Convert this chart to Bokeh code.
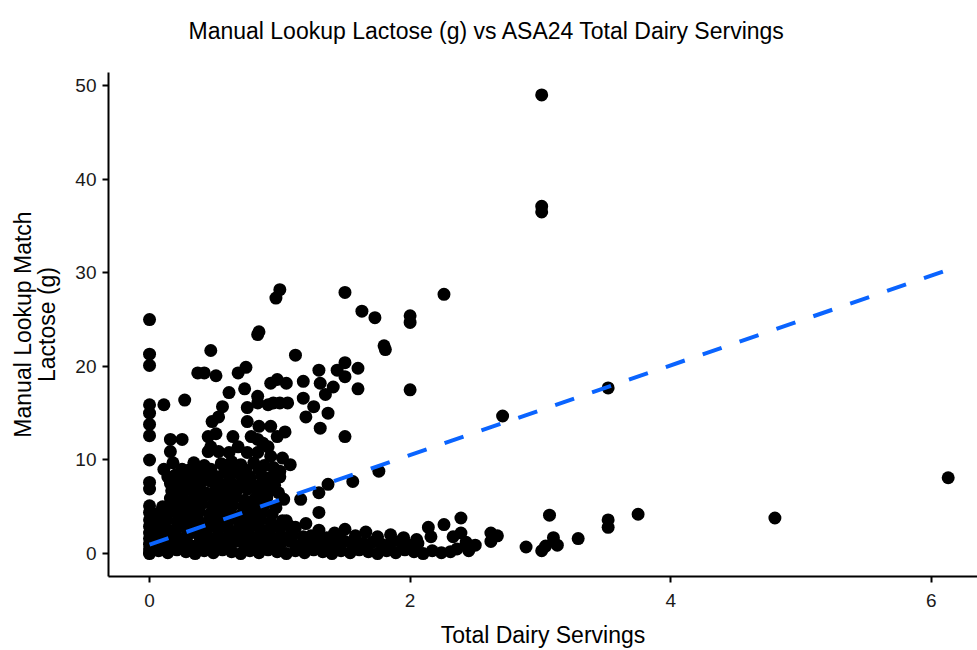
from bokeh.plotting import figure
from bokeh.models import FixedTicker, Range1d, Title
from bokeh.embed import file_html
from bokeh.resources import INLINE

# ---------------- data (Total Dairy Servings, Lactose g) ----------------
zero_points = [(0.0, 25.0), (0.0, 21.3), (0.0, 20.1), (0.0, 15.9), (0.0, 15.0), (0.0, 13.8),
               (0.0, 12.6), (0.0, 10.0), (0.0, 7.6), (0.0, 6.9), (0.0, 5.1), (0.0, 4.4),
               (0.0, 3.6), (0.0, 2.9), (0.0, 2.2), (0.0, 1.6), (0.0, 1.0), (0.0, 0.5), (0.0, 0.1)]

outlier_points = [(3.01, 49.0), (3.01, 37.1), (3.01, 36.5), (1.00, 28.2), (0.97, 27.3), (1.50, 27.9),
                  (2.26, 27.7), (1.63, 25.9), (1.73, 25.2), (2.00, 25.4), (2.00, 24.7), (0.83, 23.4),
                  (0.84, 23.7), (0.47, 21.7), (1.12, 21.2), (1.80, 22.2), (1.81, 21.8), (2.00, 17.5),
                  (3.52, 17.7), (2.71, 14.7), (6.13, 8.1), (4.80, 3.8), (3.75, 4.2), (3.52, 3.6),
                  (3.52, 2.8), (3.07, 4.1), (3.29, 1.6), (3.10, 1.7), (3.13, 0.9), (3.01, 0.3),
                  (3.04, 0.8), (2.89, 0.7)]

upper_points = [(0.11, 15.9), (0.27, 16.4), (0.37, 19.3), (0.42, 19.3), (0.51, 19.0), (0.68, 19.3),
                (0.74, 19.9), (0.61, 17.2), (0.73, 17.6), (0.83, 16.8), (0.93, 18.2), (0.98, 18.6),
                (1.05, 18.2), (1.18, 18.4), (1.31, 18.2), (1.30, 19.6), (1.44, 19.6), (1.50, 20.4),
                (1.60, 19.8), (1.50, 18.9), (1.60, 17.6), (1.41, 17.8), (1.35, 17.0), (1.37, 15.0),
                (1.26, 15.7), (1.18, 16.6), (1.20, 14.6), (1.06, 16.1), (0.95, 16.1), (1.31, 13.4),
                (1.50, 12.5), (0.56, 15.7), (0.53, 14.6), (0.48, 14.1), (0.75, 15.6), (0.83, 16.1),
                (0.91, 15.9), (1.00, 16.1), (0.75, 14.1), (0.84, 13.6), (0.93, 13.6), (1.04, 13.0),
                (0.98, 12.5), (0.16, 12.2), (0.25, 12.2), (0.16, 10.9), (0.45, 12.5), (0.47, 11.4),
                (0.51, 12.8), (0.64, 12.5), (0.68, 11.4), (0.75, 10.8), (0.78, 12.5), (0.83, 12.2),
                (0.91, 11.4), (0.83, 10.8), (0.87, 11.8), (0.45, 10.9), (0.53, 10.9), (0.61, 10.8),
                (0.93, 10.4)]

mid_points = [(1.00, 8.8), (1.00, 8.2), (0.89, 7.4), (1.16, 5.8), (1.30, 6.5), (1.37, 7.4),
              (1.56, 7.7), (1.76, 8.8), (1.30, 4.4), (1.03, 5.8), (1.08, 9.5), (1.02, 10.2)]

blob_points = [
    (0.18, 9.7), (0.34, 9.7), (0.42, 9.4), (0.55, 9.6), (0.63, 9.8), (0.70, 9.5), (0.80, 9.7), (0.88, 9.4),
    (0.11, 9.0), (0.25, 9.0), (0.30, 8.9), (0.38, 9.1), (0.47, 9.0), (0.58, 8.8), (0.66, 9.1), (0.74, 8.9),
    (0.84, 9.0), (0.95, 9.2),
    (0.14, 8.2), (0.20, 8.4), (0.29, 8.3), (0.36, 8.1), (0.44, 8.4), (0.52, 8.2), (0.61, 8.3), (0.69, 8.5),
    (0.77, 8.2), (0.86, 8.3), (0.92, 8.1),
    (0.16, 7.5), (0.23, 7.6), (0.31, 7.4), (0.39, 7.5), (0.47, 7.7), (0.55, 7.4), (0.63, 7.5), (0.71, 7.6),
    (0.79, 7.4), (0.87, 7.5), (0.96, 7.3),
    (0.17, 6.7), (0.22, 6.6), (0.28, 6.8), (0.35, 6.7), (0.43, 6.5), (0.51, 6.8), (0.59, 6.6), (0.67, 6.7),
    (0.75, 6.9), (0.83, 6.6), (0.91, 6.7), (0.99, 6.5),
    (0.16, 5.9), (0.20, 6.0), (0.26, 5.8), (0.34, 5.9), (0.42, 6.1), (0.50, 5.8), (0.57, 5.9), (0.65, 6.0),
    (0.73, 5.7), (0.81, 5.9), (0.90, 6.0),
    (0.10, 5.0), (0.17, 5.2), (0.24, 5.1), (0.32, 5.0), (0.40, 5.3), (0.48, 5.1), (0.56, 4.9), (0.64, 5.2),
    (0.72, 5.0), (0.80, 5.1), (0.88, 5.2), (0.97, 4.9),
    (0.07, 4.3), (0.15, 4.4), (0.22, 4.2), (0.30, 4.3), (0.38, 4.5), (0.46, 4.2), (0.54, 4.3), (0.62, 4.4),
    (0.70, 4.1), (0.78, 4.3), (0.86, 4.4), (0.94, 4.2),
    (0.06, 3.5), (0.13, 3.6), (0.21, 3.4), (0.29, 3.5), (0.37, 3.7), (0.45, 3.4), (0.53, 3.5), (0.61, 3.6),
    (0.69, 3.3), (0.77, 3.5), (0.85, 3.6), (0.93, 3.4), (1.02, 3.5),
    (0.05, 2.7), (0.12, 2.8), (0.20, 2.6), (0.28, 2.7), (0.36, 2.9), (0.44, 2.6), (0.52, 2.7), (0.60, 2.8),
    (0.68, 2.5), (0.76, 2.7), (0.84, 2.8), (0.92, 2.6), (1.00, 2.7), (1.08, 2.9),
    (0.05, 1.9), (0.13, 2.0), (0.21, 1.8), (0.29, 1.9), (0.37, 2.1), (0.45, 1.8), (0.53, 1.9), (0.61, 2.0),
    (0.69, 1.7), (0.77, 1.9), (0.85, 2.0), (0.93, 1.8), (1.01, 1.9), (1.09, 2.1), (1.18, 1.8), (1.27, 1.9),
    (1.36, 1.7)]

band_points = [
    (0.03, 1.2), (0.10, 1.0), (0.17, 1.1), (0.24, 1.3), (0.31, 0.9), (0.38, 1.1), (0.45, 1.2), (0.52, 1.0),
    (0.59, 1.1), (0.66, 1.3), (0.73, 0.9), (0.80, 1.1), (0.87, 1.2), (0.94, 1.0), (1.01, 1.1), (1.08, 1.3),
    (1.15, 0.9), (1.22, 1.1), (1.29, 1.2), (1.36, 1.0), (1.43, 1.1), (1.50, 1.3), (1.57, 0.9), (1.64, 1.1),
    (1.71, 1.2), (1.78, 1.0), (1.85, 1.1), (1.92, 1.3), (1.99, 0.9), (2.06, 1.1),
    (0.00, 0.0), (0.07, 0.3), (0.14, 0.1), (0.21, 0.4), (0.28, 0.2), (0.35, 0.0), (0.42, 0.3), (0.49, 0.1),
    (0.56, 0.4), (0.63, 0.2), (0.70, 0.0), (0.77, 0.3), (0.84, 0.1), (0.91, 0.4), (0.98, 0.2), (1.05, 0.0),
    (1.12, 0.3), (1.19, 0.1), (1.26, 0.4), (1.33, 0.2), (1.40, 0.0), (1.47, 0.3), (1.54, 0.1), (1.61, 0.4),
    (1.68, 0.2), (1.75, 0.0), (1.82, 0.3), (1.89, 0.1), (1.96, 0.4), (2.03, 0.2), (2.10, 0.0), (2.17, 0.3),
    (2.24, 0.1), (2.31, 0.2)]

band_top_points = [(1.05, 3.5), (1.12, 2.8), (1.20, 3.2), (1.30, 2.5), (1.42, 2.2), (1.50, 2.6),
                   (1.58, 1.9), (1.66, 2.3), (1.75, 1.8), (1.85, 2.0), (1.95, 1.7), (2.05, 1.5),
                   (2.14, 2.8), (2.16, 1.8), (2.26, 3.1), (2.39, 3.8), (2.39, 2.2), (2.33, 1.8),
                   (2.43, 1.2), (1.10, 2.0), (1.24, 1.9), (1.46, 1.7), (2.62, 2.2), (2.62, 1.3),
                   (2.67, 1.9), (2.50, 0.9), (2.36, 0.5), (2.45, 0.3)]

# linear fit
fit_intercept = 0.95
fit_slope = 4.79
fit_x = [0.0, 6.13]

x_ticks = [0, 2, 4, 6]
y_ticks = [0, 10, 20, 30, 40, 50]

all_points = (zero_points + outlier_points + upper_points + mid_points +
              blob_points + band_points + band_top_points)
servings = [pt[0] for pt in all_points]
lactose = [pt[1] for pt in all_points]
fit_y = [fit_intercept + fit_slope * v for v in fit_x]

# ---------------- figure ----------------
FONT = "Liberation Sans"

p = figure(width=977, height=650, output_backend="svg", toolbar_location=None,
           x_range=Range1d(-0.315, 6.355), y_range=Range1d(-2.45, 51.4),
           min_border_left=108, min_border_right=0, min_border_top=72, min_border_bottom=73)
p.outline_line_color = None
p.grid.visible = False
p.background_fill_color = "white"
p.border_fill_color = "white"

# spacer (nearest the frame), then the real title
p.add_layout(Title(text=" ", text_font=FONT, text_font_size="10px", standoff=10), "above")
title = Title(text="Manual Lookup Lactose (g) vs ASA24 Total Dairy Servings",
              text_font=FONT, text_font_size="23px", text_font_style="normal",
              text_color="black", align="left", offset=80, vertical_align="middle", standoff=9)
p.add_layout(title, "above")

p.scatter(servings, lactose, size=13, fill_color="black", line_color=None)
p.line(fit_x, fit_y, line_color="#0a64ff", line_width=4, line_dash="20 19")

for ax in (p.xaxis[0], p.yaxis[0]):
    ax.axis_line_color = "black"
    ax.axis_line_width = 2
    ax.major_tick_line_color = "black"
    ax.major_tick_line_width = 2
    ax.major_tick_out = 6
    ax.major_tick_in = 0
    ax.minor_tick_line_color = None
    ax.major_label_text_font = FONT
    ax.major_label_text_font_size = "19px"
    ax.major_label_text_color = "#1a1a1a"
    ax.major_label_standoff = 6
    ax.axis_label_text_font = FONT
    ax.axis_label_text_font_size = "23px"
    ax.axis_label_text_font_style = "normal"
    ax.axis_label_text_color = "black"

p.xaxis[0].ticker = FixedTicker(ticks=x_ticks)
p.yaxis[0].ticker = FixedTicker(ticks=y_ticks)
p.xaxis[0].axis_label = "Total Dairy Servings"
p.xaxis[0].major_label_standoff = 11
p.xaxis[0].axis_label_standoff = 12
p.yaxis[0].axis_label = "Manual Lookup Match\nLactose (g)"
p.yaxis[0].axis_label_standoff = 12
p.yaxis[0].axis_label_text_line_height = 0.95

open("out.html", "w").write(file_html(p, INLINE))
